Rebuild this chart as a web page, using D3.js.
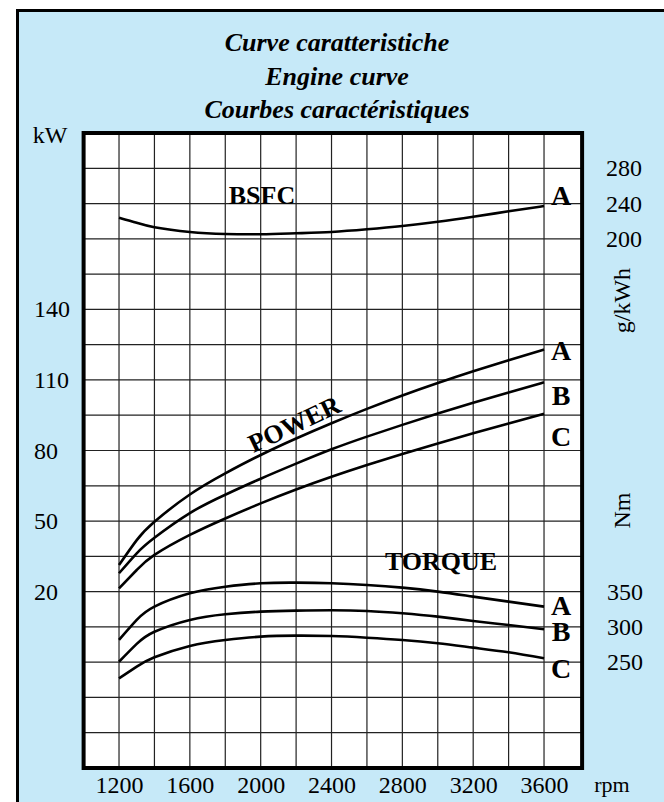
<!DOCTYPE html>
<html>
<head>
<meta charset="utf-8">
<script src="https://cdn.jsdelivr.net/npm/d3@7"></script>
<style>
  html, body { margin: 0; padding: 0; background: #fff; }
  svg { display: block; }
  text { font-family: "Liberation Serif", "Times New Roman", serif; fill: #000; }
</style>
</head>
<body>
<svg id="chart" width="664" height="802"></svg>
<script>
// --- Data ---
const rpm = [1200, 1300, 1400, 1600, 1800, 2000, 2200, 2400, 2600, 2800, 3000, 3200, 3400, 3600];

const bsfcA = [224.0, 218.2, 213.1, 207.8, 205.5, 205.2, 206.3, 207.8, 210.8, 214.6, 219.4, 225.1, 231.2, 237.2];

const powerA = [31.3, 41.9, 49.7, 61.3, 70.3, 78.1, 85.1, 91.6, 97.7, 103.4, 108.7, 113.7, 118.4, 122.9];
const powerB = [27.8, 36.3, 42.9, 53.4, 61.2, 68.0, 74.4, 80.5, 85.9, 90.9, 95.7, 100.3, 104.7, 109.0];
const powerC = [21.4, 29.2, 35.6, 44.1, 51.1, 57.5, 63.4, 68.8, 73.8, 78.5, 83.0, 87.3, 91.5, 95.6];

const torqueA = [281.5, 309.9, 328.7, 347.6, 357.0, 361.8, 362.7, 361.8, 359.4, 355.6, 350.0, 342.9, 335.8, 328.7];
const torqueB = [250.6, 275.9, 293.1, 309.9, 317.9, 321.6, 323.0, 323.5, 322.6, 319.4, 314.6, 308.4, 302.7, 296.6];
const torqueC = [227.0, 243.6, 256.9, 273.0, 281.5, 286.2, 287.6, 287.0, 284.7, 281.5, 276.8, 270.6, 264.0, 255.5];

const rpmTicks = [1200, 1600, 2000, 2400, 2800, 3200, 3600];
const kwTicks = [20, 50, 80, 110, 140];
const gTicks = [200, 240, 280];
const nmTicks = [250, 300, 350];

const titleLines = ["Curve caratteristiche", "Engine curve", "Courbes caractéristiques"];

// --- Layout ---
const W = 664, H = 802;
const plot = { left: 83.6, right: 582.1, top: 133, bottom: 768 };

const svg = d3.select('#chart');

// Scales
const x = d3.scaleLinear().domain([1000, 3815]).range([plot.left, plot.right]);
const yKw = d3.scaleLinear().domain([-55, 215]).range([plot.bottom, plot.top]);
const yNm = d3.scaleLinear().domain([100, 1000]).range([plot.bottom, plot.top]);
const yG = d3.scaleLinear().domain([-400, 320]).range([plot.bottom, plot.top]);

// Background panel
svg.append('rect')
    .attr('x', 17.5).attr('y', 10.5)
    .attr('width', W + 20).attr('height', H + 20)
    .attr('fill', '#c6e9f8')
    .attr('stroke', '#000')
    .attr('stroke-width', 3);

// Title
svg.selectAll('.title')
    .data(titleLines)
    .enter()
    .append('text')
    .attr('class', 'title')
    .attr('x', 337)
    .attr('y', (d, i) => 51 + i * 33.5)
    .attr('text-anchor', 'middle')
    .style('font-size', '26px')
    .style('font-weight', 'bold')
    .style('font-style', 'italic')
    .text(d => d);

// Plot area
svg.append('rect')
    .attr('x', plot.left).attr('y', plot.top)
    .attr('width', plot.right - plot.left).attr('height', plot.bottom - plot.top)
    .attr('fill', '#fff');

// Grid
const grid = svg.append('g').attr('stroke', '#222').attr('stroke-width', 1.2);
grid.selectAll('.vgrid')
    .data(d3.range(1200, 3601, 200))
    .enter()
    .append('line')
    .attr('x1', d => x(d)).attr('x2', d => x(d))
    .attr('y1', plot.top).attr('y2', plot.bottom);
grid.selectAll('.hgrid')
    .data(d3.range(-40, 201, 15))
    .enter()
    .append('line')
    .attr('y1', d => yKw(d)).attr('y2', d => yKw(d))
    .attr('x1', plot.left).attr('x2', plot.right);

// Frame
svg.append('rect')
    .attr('x', plot.left).attr('y', plot.top)
    .attr('width', plot.right - plot.left).attr('height', plot.bottom - plot.top)
    .attr('fill', 'none')
    .attr('stroke', '#000')
    .attr('stroke-width', 4);

// Curves
function drawCurve(values, yScale) {
    const line = d3.line()
        .x((d, i) => x(rpm[i]))
        .y(d => yScale(d))
        .curve(d3.curveNatural);
    svg.append('path')
        .datum(values)
        .attr('fill', 'none')
        .attr('stroke', '#000')
        .attr('stroke-width', 2.6)
        .attr('d', line);
}
drawCurve(bsfcA, yG);
[powerA, powerB, powerC].forEach(s => drawCurve(s, yKw));
[torqueA, torqueB, torqueC].forEach(s => drawCurve(s, yNm));

// Axis tick labels (labels only, no axis lines)
const tickFont = '24px';
const xAxis = svg.append('g')
    .attr('transform', `translate(0, ${plot.bottom})`)
    .call(d3.axisBottom(x).tickValues(rpmTicks).tickFormat(d3.format('d')).tickSize(0).tickPadding(8));
xAxis.select('.domain').remove();
xAxis.selectAll('text').style('font-size', tickFont).attr('font-family', null);

function sideLabels(ticks, scale, xPos) {
    svg.selectAll(null)
        .data(ticks)
        .enter()
        .append('text')
        .attr('x', xPos)
        .attr('y', d => scale(d) + 8)
        .attr('text-anchor', 'start')
        .style('font-size', tickFont)
        .text(d => d);
}
sideLabels(kwTicks, yKw, 34);
sideLabels(gTicks, yG, 606);
sideLabels(nmTicks, yNm, 607);

// Unit labels
svg.append('text').attr('x', 50).attr('y', 143).attr('text-anchor', 'middle')
    .style('font-size', tickFont).text('kW');
svg.append('text').attr('x', 612).attr('y', 792).attr('text-anchor', 'middle')
    .style('font-size', '22px').text('rpm');
svg.append('text')
    .attr('transform', `translate(630, ${yG(130)}) rotate(-90)`)
    .attr('text-anchor', 'middle')
    .style('font-size', tickFont).text('g/kWh');
svg.append('text')
    .attr('transform', `translate(630, ${yNm(465)}) rotate(-90)`)
    .attr('text-anchor', 'middle')
    .style('font-size', tickFont).text('Nm');

// Curve names
const bold = (sel, size) => sel.style('font-weight', 'bold').style('font-size', size);
bold(svg.append('text').attr('x', 262).attr('y', 204).attr('text-anchor', 'middle').text('BSFC'), '26px');
bold(svg.append('text').attr('x', 441).attr('y', 570).attr('text-anchor', 'middle').text('TORQUE'), '26px');
bold(svg.append('text')
    .attr('transform', 'translate(298, 432) rotate(-25.3)')
    .attr('text-anchor', 'middle').text('POWER'), '26px');

// End letters
const endLabels = [
    { t: 'A', v: bsfcA, s: yG, dy: -1 },
    { t: 'A', v: powerA, s: yKw, dy: 10 },
    { t: 'B', v: powerB, s: yKw, dy: 23 },
    { t: 'C', v: powerC, s: yKw, dy: 32 },
    { t: 'A', v: torqueA, s: yNm, dy: 8 },
    { t: 'B', v: torqueB, s: yNm, dy: 12 },
    { t: 'C', v: torqueC, s: yNm, dy: 20 }
];
endLabels.forEach(l => {
    bold(svg.append('text')
        .attr('x', x(3600) + 17)
        .attr('y', l.s(l.v[l.v.length - 1]) + l.dy)
        .attr('text-anchor', 'middle')
        .text(l.t), '28px');
});
</script>
</body>
</html>
